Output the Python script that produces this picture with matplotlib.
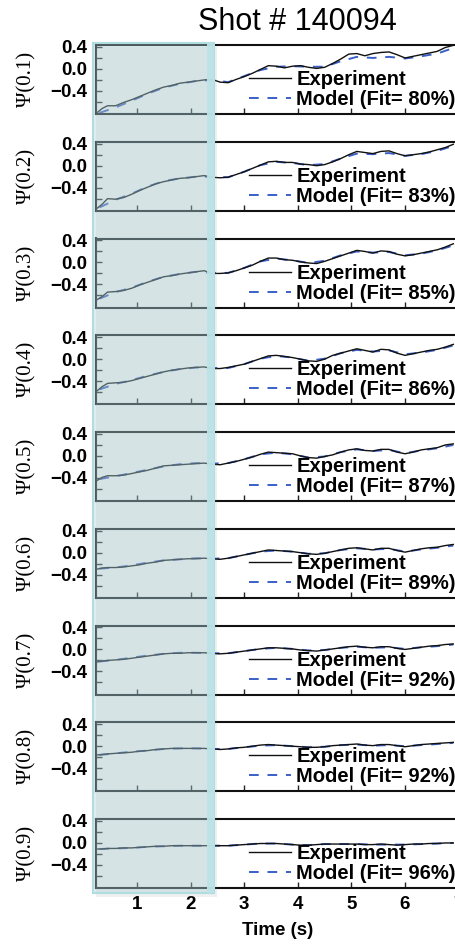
import numpy as np
import matplotlib
matplotlib.use('Agg')
import matplotlib.pyplot as plt
from matplotlib.patches import Rectangle

W, H = 455, 950
SANS = ['Liberation Sans', 'DejaVu Sans']
SERIF = ['Liberation Serif', 'DejaVu Serif']

SHOT = '140094'
RHO = ['0.1', '0.2', '0.3', '0.4', '0.5', '0.6', '0.7', '0.8', '0.9']
FIT = [80, 83, 85, 86, 87, 89, 92, 92, 96]

# measured flux samples (s)
T_EXP = [0.25, 0.35, 0.45, 0.6, 0.75, 0.9, 1.05, 1.2, 1.35, 1.5, 1.65, 1.8,
         1.95, 2.1, 2.25, 2.4, 2.55, 2.7, 2.85, 3.0, 3.15, 3.3, 3.45, 3.6,
         3.75, 3.9, 4.05, 4.2, 4.35, 4.5, 4.65, 4.8, 4.95, 5.1, 5.25, 5.4,
         5.55, 5.7, 5.85, 6.0, 6.15, 6.3, 6.45, 6.6, 6.75, 6.9]
# model output samples (s)
T_MOD = [0.3, 0.6, 0.9, 1.2, 1.5, 1.8, 2.1, 2.4, 2.7, 3.0, 3.3, 3.6, 3.9,
         4.2, 4.5, 4.8, 5.1, 5.4, 5.7, 6.0, 6.3, 6.6, 6.9]

exp_01 = [-0.80, -0.72, -0.67, -0.67, -0.61, -0.56, -0.50, -0.44, -0.38, -0.33, -0.30, -0.26,
          -0.24, -0.22, -0.20, -0.19, -0.24, -0.25, -0.19, -0.14, -0.08, -0.01, 0.06, 0.05,
          0.02, 0.05, 0.06, 0.03, 0.01, 0.03, 0.10, 0.18, 0.27, 0.28, 0.24, 0.28,
          0.30, 0.31, 0.26, 0.20, 0.23, 0.26, 0.29, 0.32, 0.39, 0.43]
exp_02 = [-0.78, -0.70, -0.60, -0.61, -0.58, -0.52, -0.45, -0.39, -0.33, -0.29, -0.26, -0.23,
          -0.22, -0.20, -0.18, -0.21, -0.22, -0.21, -0.16, -0.11, -0.05, 0.01, 0.07, 0.08,
          0.06, 0.06, 0.03, 0.02, 0.00, 0.02, 0.07, 0.13, 0.20, 0.26, 0.24, 0.22,
          0.26, 0.27, 0.22, 0.18, 0.20, 0.22, 0.25, 0.29, 0.33, 0.39]
exp_03 = [-0.68, -0.62, -0.54, -0.53, -0.51, -0.47, -0.41, -0.36, -0.31, -0.26, -0.24, -0.21,
          -0.19, -0.17, -0.15, -0.20, -0.20, -0.19, -0.15, -0.10, -0.05, 0.02, 0.08, 0.08,
          0.05, 0.04, 0.01, -0.01, -0.02, 0.02, 0.07, 0.12, 0.17, 0.22, 0.20, 0.17,
          0.21, 0.20, 0.15, 0.12, 0.14, 0.17, 0.20, 0.23, 0.28, 0.34]
exp_04 = [-0.58, -0.50, -0.44, -0.43, -0.42, -0.39, -0.35, -0.31, -0.27, -0.23, -0.20, -0.18,
          -0.16, -0.15, -0.14, -0.17, -0.17, -0.15, -0.12, -0.09, -0.04, 0.01, 0.06, 0.07,
          0.05, 0.03, 0.00, -0.03, -0.04, 0.00, 0.07, 0.11, 0.15, 0.19, 0.16, 0.13,
          0.18, 0.17, 0.11, 0.07, 0.10, 0.13, 0.16, 0.18, 0.22, 0.27]
exp_05 = [-0.45, -0.39, -0.36, -0.36, -0.35, -0.32, -0.29, -0.26, -0.22, -0.18, -0.17, -0.16,
          -0.15, -0.14, -0.13, -0.15, -0.16, -0.13, -0.10, -0.06, -0.02, 0.03, 0.07, 0.06,
          0.05, 0.04, 0.00, -0.03, -0.04, -0.01, 0.02, 0.07, 0.11, 0.13, 0.10, 0.09,
          0.12, 0.12, 0.07, 0.04, 0.07, 0.11, 0.13, 0.15, 0.20, 0.22]
exp_06 = [-0.30, -0.28, -0.27, -0.27, -0.26, -0.24, -0.22, -0.19, -0.17, -0.14, -0.13, -0.12,
          -0.11, -0.11, -0.10, -0.11, -0.12, -0.10, -0.07, -0.04, -0.01, 0.02, 0.05, 0.04,
          0.03, 0.02, 0.00, -0.02, -0.03, -0.01, 0.02, 0.05, 0.08, 0.09, 0.07, 0.05,
          0.08, 0.08, 0.04, 0.01, 0.04, 0.07, 0.09, 0.10, 0.13, 0.15]
exp_07 = [-0.23, -0.21, -0.20, -0.19, -0.18, -0.16, -0.14, -0.12, -0.10, -0.08, -0.07, -0.07,
          -0.06, -0.06, -0.06, -0.07, -0.08, -0.07, -0.05, -0.03, -0.01, 0.01, 0.03, 0.03,
          0.02, 0.01, -0.01, -0.02, -0.03, -0.01, 0.01, 0.03, 0.05, 0.06, 0.04, 0.03,
          0.05, 0.05, 0.02, 0.00, 0.02, 0.04, 0.06, 0.07, 0.09, 0.10]
exp_08 = [-0.16, -0.15, -0.14, -0.13, -0.12, -0.11, -0.09, -0.08, -0.06, -0.05, -0.04, -0.04,
          -0.04, -0.04, -0.04, -0.05, -0.06, -0.05, -0.03, -0.02, 0.00, 0.02, 0.03, 0.02,
          0.01, 0.00, -0.01, -0.02, -0.02, -0.01, 0.01, 0.02, 0.03, 0.04, 0.02, 0.01,
          0.03, 0.03, 0.01, -0.01, 0.01, 0.03, 0.04, 0.05, 0.06, 0.07]
exp_09 = [-0.11, -0.11, -0.10, -0.10, -0.09, -0.09, -0.08, -0.07, -0.06, -0.06, -0.05, -0.05,
          -0.05, -0.05, -0.05, -0.05, -0.05, -0.05, -0.04, -0.03, -0.02, -0.01, -0.01, -0.01,
          -0.02, -0.03, -0.04, -0.04, -0.03, -0.02, -0.02, -0.02, -0.02, -0.02, -0.03, -0.03,
          -0.02, -0.03, -0.04, -0.03, -0.02, -0.02, -0.01, -0.01, 0.00, 0.00]

mod_01 = [-0.80, -0.70, -0.58, -0.45, -0.34, -0.27, -0.22, -0.20, -0.24, -0.13, -0.02, 0.04,
          0.05, 0.04, 0.04, 0.14, 0.22, 0.20, 0.22, 0.19, 0.23, 0.28, 0.38]
mod_02 = [-0.76, -0.62, -0.51, -0.38, -0.28, -0.23, -0.20, -0.20, -0.21, -0.11, 0.01, 0.07,
          0.05, 0.01, 0.03, 0.13, 0.22, 0.21, 0.23, 0.18, 0.21, 0.27, 0.36]
mod_03 = [-0.66, -0.54, -0.46, -0.35, -0.26, -0.21, -0.17, -0.19, -0.19, -0.10, 0.02, 0.07,
          0.04, -0.01, 0.03, 0.13, 0.20, 0.18, 0.19, 0.13, 0.16, 0.22, 0.31]
mod_04 = [-0.55, -0.45, -0.38, -0.30, -0.23, -0.18, -0.15, -0.16, -0.16, -0.09, 0.01, 0.06,
          0.03, -0.03, 0.01, 0.11, 0.17, 0.14, 0.16, 0.09, 0.12, 0.17, 0.25]
mod_05 = [-0.42, -0.37, -0.31, -0.25, -0.19, -0.15, -0.13, -0.14, -0.13, -0.06, 0.03, 0.06,
          0.03, -0.03, -0.01, 0.07, 0.12, 0.09, 0.11, 0.05, 0.10, 0.14, 0.20]
mod_06 = [-0.29, -0.27, -0.23, -0.18, -0.14, -0.12, -0.10, -0.11, -0.10, -0.04, 0.02, 0.04,
          0.02, -0.02, -0.01, 0.05, 0.08, 0.06, 0.07, 0.02, 0.06, 0.09, 0.13]
mod_07 = [-0.22, -0.19, -0.15, -0.11, -0.08, -0.06, -0.06, -0.07, -0.07, -0.03, 0.01, 0.03,
          0.01, -0.02, -0.01, 0.03, 0.05, 0.03, 0.04, 0.01, 0.04, 0.06, 0.09]
mod_08 = [-0.16, -0.13, -0.10, -0.08, -0.05, -0.04, -0.04, -0.05, -0.05, -0.02, 0.01, 0.02,
          0.00, -0.02, -0.01, 0.02, 0.03, 0.01, 0.02, 0.00, 0.02, 0.04, 0.06]
mod_09 = [-0.11, -0.10, -0.09, -0.07, -0.06, -0.05, -0.05, -0.05, -0.05, -0.03, -0.01, -0.01,
          -0.03, -0.04, -0.02, -0.02, -0.02, -0.03, -0.03, -0.03, -0.02, -0.01, 0.00]

EXP = [exp_01, exp_02, exp_03, exp_04, exp_05, exp_06, exp_07, exp_08, exp_09]
MOD = [mod_01, mod_02, mod_03, mod_04, mod_05, mod_06, mod_07, mod_08, mod_09]

XLIM = (0.235, 7.025)
YLIM = (-0.82, 0.436)
TIME_TICKS = [1, 2, 3, 4, 5, 6, 7]
PSI_TICKS = [-0.4, 0.0, 0.4]
PSI_MINOR = [-0.6, -0.2, 0.2]

fig = plt.figure(figsize=(W / 100, H / 100), dpi=100)

def px_box(x0, top, w, h):
    return [x0 / W, 1 - (top + h) / H, w / W, h / H]

AX_LEFT, AX_W, AX_H = 96, 364, 69
TOP0, STEP = 45, 96.75

axes = []
for i in range(9):
    top = TOP0 + STEP * i
    ax = fig.add_axes(px_box(AX_LEFT, top, AX_W, AX_H))
    ax.plot(T_EXP, EXP[i], color='#111111', lw=1.0, zorder=3)
    ax.plot(T_MOD, MOD[i], color='#3a5fc8', lw=1.4, ls=(0, (5, 4.5)), zorder=2)
    ax.set_xlim(*XLIM)
    ax.set_ylim(*YLIM)
    ax.set_yticks(PSI_TICKS)
    ax.set_yticks(PSI_MINOR, minor=True)
    ax.set_yticklabels(['\u22120.4', '0.0', '0.4'], fontfamily=SANS,
                       fontweight='bold', fontsize=13.5)
    ax.set_xticks(TIME_TICKS)
    ax.tick_params(axis='both', which='both', direction='in', length=4,
                   width=1, color='#222222', pad=6)
    ax.tick_params(axis='y', which='both', right=False)
    ax.tick_params(axis='x', top=False)
    for s in ['top', 'bottom', 'left']:
        ax.spines[s].set_linewidth(1.5)
        ax.spines[s].set_color('#111111')
    ax.spines['right'].set_visible(False)
    if i < 8:
        ax.set_xticklabels([])
    else:
        ax.set_xticklabels([str(t) for t in TIME_TICKS], fontfamily=SANS,
                           fontweight='bold', fontsize=13.5)
        ax.set_xlabel('Time (s)', fontfamily=SANS, fontweight='bold',
                      fontsize=13.5, labelpad=6)
    ax.legend(['Experiment', f'Model (Fit= {FIT[i]}%)'],
              loc='upper left', bbox_to_anchor=(0.42, 0.635),
              frameon=False, borderpad=0, borderaxespad=0,
              handlelength=2.1, handletextpad=0.25, labelspacing=0.05,
              prop={'family': SANS, 'weight': 'bold', 'size': 14.5})
    fig.text(27 / W, 1 - (top + AX_H / 2) / H, f'\u03a8({RHO[i]})',
             rotation=90, ha='center', va='center', fontfamily=SERIF,
             fontsize=15)
    axes.append(ax)

fig.text(297 / W, 1 - 22 / H, f'Shot # {SHOT}', ha='center', va='center',
         fontfamily=SANS, fontsize=22)

# shaded training window drawn over the panels
bx0, bx1, by0, by1 = 93, 214, 43, 893
fig.add_artist(Rectangle(((bx0 + 3) / W, 1 - (by1 + 4) / H), (bx1 - bx0) / W,
                         (by1 - by0) / H, transform=fig.transFigure,
                         facecolor='#888888', alpha=0.12, lw=0, zorder=4))
fig.add_artist(Rectangle((bx0 / W, 1 - by1 / H), (bx1 - bx0) / W,
                         (by1 - by0) / H, transform=fig.transFigure,
                         facecolor='#a9d0d5', alpha=0.38, lw=0, zorder=5))
fig.add_artist(Rectangle((bx0 / W, 1 - by1 / H), (bx1 - bx0) / W,
                         (by1 - by0) / H, transform=fig.transFigure,
                         facecolor='none', edgecolor='#b0dde2', lw=1.5, zorder=6))
fig.add_artist(Rectangle((207 / W, 1 - by1 / H), 7 / W, (by1 - by0) / H,
                         transform=fig.transFigure, facecolor='#bde3e7',
                         alpha=0.95, lw=0, zorder=6))

fig.savefig('out.png', dpi=100)
